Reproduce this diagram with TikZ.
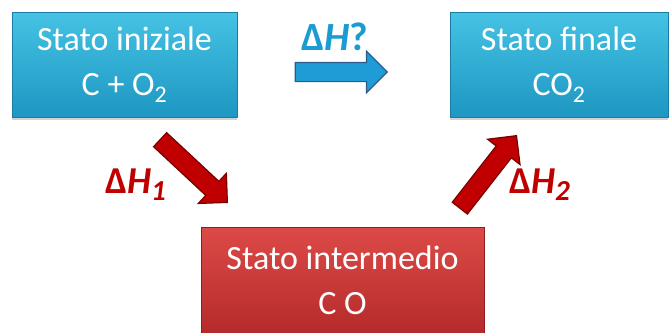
\documentclass[tikz,border=0pt]{standalone}
\usepackage{fontspec}
\setmainfont{Carlito}
\usetikzlibrary{positioning,shapes.arrows,shadows}
\definecolor{bluetop}{HTML}{45C2E4}
\definecolor{bluebot}{HTML}{1E97C2}
\definecolor{blueline}{HTML}{1A7DA3}
\definecolor{redtop}{HTML}{DC4A47}
\definecolor{redbot}{HTML}{B52B2B}
\definecolor{redline}{HTML}{8E1E1E}
\definecolor{arrowred}{HTML}{C00000}
\definecolor{arrowdark}{HTML}{7A0000}
\definecolor{arrowblue}{HTML}{1F9CD6}
\definecolor{arrowblueline}{HTML}{2D5B8A}
\definecolor{labelblue}{HTML}{1C9AD2}

\begin{document}
\begin{tikzpicture}[x=1pt, y=-1pt,
    % Boxen fuer die Zustaende
    statebox/.style={
      rectangle,
      draw=blueline,
      top color=bluetop,
      bottom color=bluebot,
      text=white,
      align=center,
      inner sep=0pt,
      font=\fontsize{34}{45}\selectfont,
      drop shadow={shadow xshift=0pt, shadow yshift=-3pt, opacity=0.35}
    },
    redbox/.style={
      statebox,
      draw=redline,
      top color=redtop,
      bottom color=redbot
    },
    % dicke Pfeile
    fatarrow/.style={
      single arrow,
      minimum height=92pt,
      inner xsep=0pt,
      inner ysep=9pt,
      single arrow head extend=11pt,
      line width=1.2pt
    },
    redarrow/.style={
      fatarrow,
      draw=arrowdark,
      fill=arrowred
    },
    bluearrow/.style={
      fatarrow,
      draw=arrowblueline,
      fill=arrowblue
    },
    % Beschriftungen
    dhlabel/.style={
      font=\fontsize{40}{46}\selectfont\bfseries,
      inner sep=0pt
    },
    sublabel/.style={
      dhlabel,
      text=arrowred,
      font=\fontsize{38}{42}\selectfont\bfseries
    }
  ]
  \clip (0,0) rectangle (672,332);
  \fill[white] (0,0) rectangle (672,332);

  % --- Zustaende ---
  \node[statebox, minimum width=225pt, minimum height=105pt] (init) at (124.5,64.5)
    {Stato iniziale\\C + O\textsubscript{2}};
  \node[statebox, minimum width=218pt, minimum height=105pt] (final) at (559,64.5)
    {Stato finale\\CO\textsubscript{2}};
  \node[redbox, minimum width=283pt, minimum height=106pt] (inter) at (342.5,280)
    {Stato intermedio\\C O};

  % --- Pfeile ---
  \node[bluearrow, anchor=tip] (direct) at (388,72) {};
  \node[redarrow, rotate=-43, anchor=tip] (step1) at (228,203) {};
  \node[redarrow, rotate=52, anchor=tip] (step2) at (517,135) {};

  % --- Beschriftungen ---
  \node[dhlabel, text=labelblue, anchor=base west] (dh) at (301,50) {Δ\textit{H}?};
  \node[sublabel, anchor=base west] (dh1) at (105,193)
    {Δ\textit{H}\raisebox{-7pt}{\fontsize{29}{31}\selectfont\textit{1}}};
  \node[sublabel, anchor=base west] (dh2) at (509,193)
    {Δ\textit{H}\raisebox{-7pt}{\fontsize{29}{31}\selectfont\textit{2}}};
\end{tikzpicture}
\end{document}
